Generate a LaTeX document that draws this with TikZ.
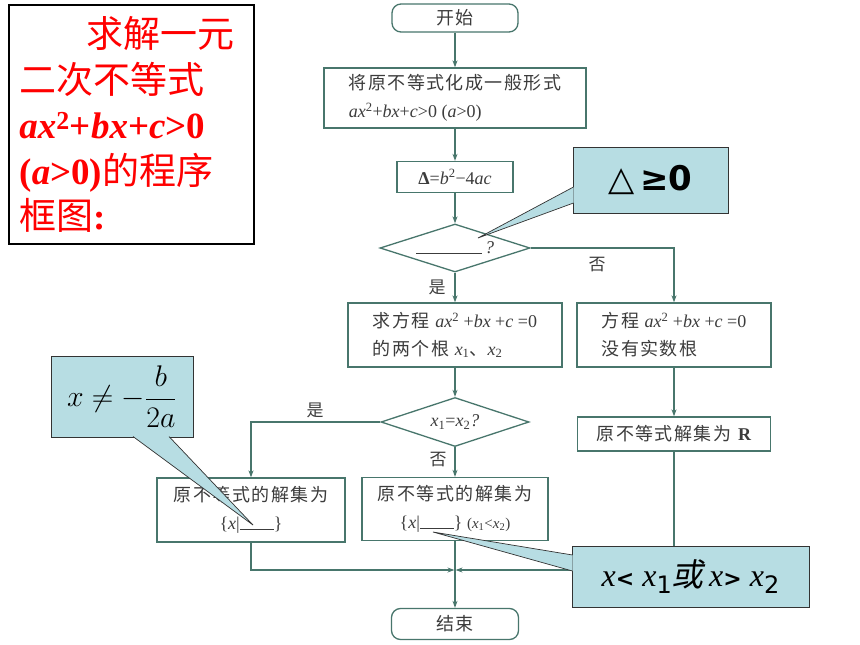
\documentclass[tikz,border=0pt]{standalone}
\usepackage{amsmath}
\usepackage{fontspec}
\setmainfont{Liberation Serif}
\newfontfamily\cjk{Noto Sans CJK SC}
\newfontfamily\cjkflow[LetterSpace=8]{Noto Sans CJK SC}
\newfontfamily\cjkslant[FakeSlant=0.2]{Noto Sans CJK SC}
\newfontfamily\dejavu{DejaVu Sans}
\usetikzlibrary{shapes.geometric, arrows.meta}

\definecolor{flowgreen}{RGB}{72,118,108}
\definecolor{inkgray}{RGB}{60,60,60}
\definecolor{notefill}{RGB}{183,221,227}

\newcommand\lat[1]{{\rmfamily #1}} % латинские формулы в блоках

\tikzset{
    flowline/.style = {draw = flowgreen, line width = 1.3pt}, % линии схемы
    arrowline/.style = {flowline, -{Stealth[length = 7pt, width = 5pt]}},
    procbox/.style = {draw = flowgreen, line width = 1.3pt, rectangle, text = inkgray,
        font = \cjkflow\fontsize{18}{28}\selectfont, inner sep = 0pt},
    termbox/.style = {procbox, rounded corners = 9pt},
    decbox/.style = {procbox, diamond, aspect = 3},
    tag/.style = {text = inkgray, font = \cjk\fontsize{17}{20}\selectfont},
    note/.style = {rectangle, draw = black!80, line width = .7pt, fill = notefill, inner sep = 0pt},
    notetip/.style = {draw = black!80, line width = .7pt, fill = notefill, line join = miter}
}

\begin{document}
\begin{tikzpicture}[x = 1pt, y = -1pt]
    \useasboundingbox [fill = white] (0, 0) rectangle (860, 645); % поле рисунка

    % Заголовок
    \node [draw = black, line width = 2.2pt, minimum width = 245pt, minimum height = 239pt,
        text width = 224pt, align = left, text = red, inner sep = 0pt,
        font = \fontsize{37}{45.5}\selectfont] (title) at (131.5, 124.5)
        {\hspace*{67pt}{\cjk 求解一元}\\
         {\cjk 二次不等式}\\
         \textbf{\textit{ax}\textsuperscript{2}+\textit{bx}+\textit{c}>0}\\
         \textbf{(\textit{a}>0)}{\cjk 的程序}\\
         {\cjk 框图}\textbf{:}};

    % Блоки схемы
    \node [termbox, minimum width = 126pt, minimum height = 28pt] (start) at (455, 18) {开始};
    \node [procbox, minimum width = 262pt, minimum height = 60pt, align = left] (form) at (455, 98)
        {将原不等式化成一般形式\\ \lat{\textit{ax}\textsuperscript{2}+\textit{bx}+\textit{c}>0 (\textit{a}>0)}};
    \node [procbox, minimum width = 116pt, minimum height = 31pt] (delta) at (455, 177)
        {\lat{\textbf{Δ}=\textit{b}\textsuperscript{2}−4\textit{ac}}};
    \node [decbox, minimum width = 150pt, minimum height = 48pt] (cond) at (455, 248)
        {\rule{66pt}{.8pt}\,\lat{\textit{?}}};
    \node [procbox, minimum width = 214pt, minimum height = 64pt, align = left] (roots) at (455, 335)
        {求方程 \lat{\textit{ax}\textsuperscript{2} +\textit{bx} +\textit{c} =0}\\
         的两个根 \lat{\textit{x}\textsubscript{1}}、\lat{\textit{x}\textsubscript{2}}};
    \node [procbox, minimum width = 194pt, minimum height = 64pt, align = left] (noroot) at (674, 335)
        {方程 \lat{\textit{ax}\textsuperscript{2} +\textit{bx} +\textit{c} =0}\\ 没有实数根};
    \node [decbox, minimum width = 148pt, minimum height = 49pt] (equal) at (455, 422)
        {\lat{\textit{x}\textsubscript{1}=\textit{x}\textsubscript{2}\textit{?}}};
    \node [procbox, minimum width = 193pt, minimum height = 34pt] (whole) at (674, 434)
        {原不等式解集为 \lat{\textbf{R}}};
    \node [procbox, minimum width = 188pt, minimum height = 64pt, align = center] (single) at (251, 510)
        {原不等式的解集为\\ \lat{\{\textit{x}|\rule{34pt}{.6pt}\}}};
    \node [procbox, minimum width = 186pt, minimum height = 63pt, align = center] (double) at (455, 509)
        {原不等式的解集为\\ \lat{\{\textit{x}|\rule{34pt}{.6pt}\} {\fontsize{15}{18}\selectfont(\textit{x}\textsubscript{1}<\textit{x}\textsubscript{2})}}};
    \node [termbox, minimum width = 127pt, minimum height = 31pt] (stop) at (455, 624) {结束};
    \coordinate (merge) at (455, 570); % точка слияния

    % Подписи ветвей
    \node [tag] (yes1) at (437, 287) {是};
    \node [tag] (no1) at (597, 265) {否};
    \node [tag] (yes2) at (315, 410) {是};
    \node [tag] (no2) at (438, 460) {否};

    % Стрелки
    \draw [arrowline] (start) -- (form);
    \draw [arrowline] (form) -- (delta);
    \draw [arrowline] (delta) -- (cond);
    \draw [arrowline] (cond) -- (roots);
    \draw [arrowline] (cond.east) -| (noroot.north);
    \draw [arrowline] (roots) -- (equal);
    \draw [arrowline] (equal.west) -| (single.north);
    \draw [arrowline] (equal) -- (double);
    \draw [arrowline] (noroot) -- (whole);
    \draw [arrowline, shorten > = .6pt] (single.south) |- (merge);
    \draw [arrowline, shorten > = .6pt] (whole.south) |- (merge);
    \draw [flowline] (double) -- (merge);
    \draw [arrowline] (merge) -- (stop);

    % Выноски
    \node [note, minimum width = 155pt, minimum height = 66pt, font = \dejavu\fontsize{34}{40}\selectfont]
        (geq) at (650.5, 180) {△\,\textbf{≥0}};
    \coordinate (geqtip) at (478, 238);
    \coordinate (geqa) at (573.5, 187);
    \coordinate (geqb) at (573.5, 203);
    \path [notetip] (geqa) -- (geqtip) -- (geqb);

    \node [note, minimum width = 142pt, minimum height = 81pt, font = \fontsize{24.88}{30}\selectfont]
        (neq) at (122, 396.5) {\scalebox{1.2}{$x \neq -\dfrac{b}{2a}$}};
    \coordinate (neqtip) at (253, 525);
    \coordinate (neqa) at (133, 436.5);
    \coordinate (neqb) at (169, 436.5);
    \path [notetip] (neqa) -- (neqtip) -- (neqb);

    \node [note, minimum width = 237pt, minimum height = 61pt, font = \fontsize{32}{38}\selectfont]
        (cross) at (690.5, 576.5)
        {\textit{x}{\dejavu\bfseries\fontsize{22}{26}\selectfont<} \textit{x}{\dejavu\fontsize{24}{26}\selectfont\raisebox{-7pt}{1}}{\cjkslant 或}\,\textit{x}{\dejavu\bfseries\fontsize{22}{26}\selectfont>} \textit{x}{\dejavu\fontsize{24}{26}\selectfont\raisebox{-7pt}{2}}};
    \coordinate (crosstip) at (433, 532);
    \coordinate (crossa) at (572.5, 555);
    \coordinate (crossb) at (572.5, 571);
    \path [notetip] (crossa) -- (crosstip) -- (crossb);
\end{tikzpicture}
\end{document}
